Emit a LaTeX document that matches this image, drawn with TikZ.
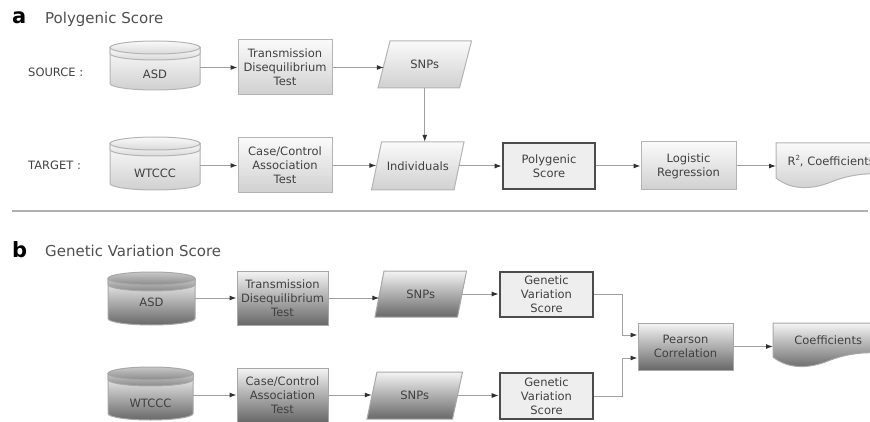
\documentclass[tikz,border=0pt]{standalone}
\usepackage{fontspec}
\setmainfont{DejaVu Sans}
\usetikzlibrary{arrows.meta}
\definecolor{txt}{HTML}{404040}
\definecolor{headC}{HTML}{505050}
\definecolor{lineC}{HTML}{A0A0A0}
\definecolor{tipC}{HTML}{303030}
\definecolor{bordA}{HTML}{B4B4B4}
\definecolor{topA}{HTML}{FAFAFA}
\definecolor{botA}{HTML}{D0D0D0}
\definecolor{bordB}{HTML}{A8A8A8}
\definecolor{topB}{HTML}{F4F4F4}
\definecolor{botB}{HTML}{686868}
\definecolor{capTopB}{HTML}{C8C8C8}
\definecolor{capBotB}{HTML}{8A8A8A}
\definecolor{scoreFill}{HTML}{EEEEEE}
\definecolor{scoreBord}{HTML}{4C4C4C}
\definecolor{sepC}{HTML}{B0B0B0}

\tikzset{
  lbl/.style={font=\fontsize{11.5}{14}\selectfont, text=txt, align=center, inner sep=0pt},
  boxA/.style={lbl, draw=bordA, line width=1pt, top color=topA, bottom color=botA},
  boxB/.style={lbl, draw=bordB, line width=1pt, top color=topB, bottom color=botB},
  scorebox/.style={lbl, draw=scoreBord, line width=2.6pt, fill=scoreFill},
  shapeA/.style={draw=bordA, line width=1pt, top color=topA, bottom color=botA},
  shapeB/.style={draw=bordB, line width=1pt, top color=topB, bottom color=botB},
  capA/.style={draw=bordA, line width=1pt, top color=topA, bottom color=botA!80},
  capB/.style={draw=bordB, line width=1pt, top color=capTopB, bottom color=capBotB},
  arr/.style={draw=lineC, line width=1pt, -{Latex[length=7pt,width=5pt,color=tipC]}},
  heading/.style={font=\fontsize{15}{18}\selectfont, text=headC, inner sep=0pt, anchor=base west},
  panel/.style={font=\bfseries\fontsize{21}{24}\selectfont, text=black, inner sep=0pt, anchor=base west},
  side/.style={font=\fontsize{11.5}{14}\selectfont, text=txt, inner sep=0pt, anchor=base west},
}

% name, style, x1, y1, x2, y2, text
\newcommand\mkbox[7]{%
  \node[#2, minimum width={#5-#3}, minimum height={#6-#4}] (#1) at ({(#3+#5)/2},{(#4+#6)/2}) {#7};}
% name, style, cx, cy, midwidth, height, slant, text
\newcommand\mkpara[8]{%
  \path[#2] ({#3-#5/2+#7/2},{#4-#6/2}) -- ({#3+#5/2+#7/2},{#4-#6/2}) -- ({#3+#5/2-#7/2},{#4+#6/2}) -- ({#3-#5/2-#7/2},{#4+#6/2}) -- cycle;
  \node[lbl, minimum width=#5, minimum height=#6] (#1) at (#3,#4) {#8};}
% name, bodystyle, capstyle, x1, y1, x2, y2, text, texty
\newcommand\mkcyl[9]{%
  \pgfmathsetmacro\cxx{(#4+#6)/2}\pgfmathsetmacro\rxx{(#6-#4)/2}%
  \path[#2] (#4,{#5+6.5}) -- (#4,{#7-6.5}) arc[start angle=180,end angle=0,x radius=\rxx,y radius=6.5] -- (#6,{#5+6.5}) -- cycle;
  \path[#3] (#4,{#5+6.5}) -- (#4,{#5+12.5}) arc[start angle=180,end angle=0,x radius=\rxx,y radius=6.5] -- (#6,{#5+6.5}) -- cycle;
  \path[#3] (\cxx,{#5+6.5}) ellipse[x radius=\rxx, y radius=6.5];
  \node[inner sep=0pt, minimum width={#6-#4}, minimum height={#7-#5}] (#1) at (\cxx,{(#5+#7)/2}) {};
  \node[lbl] (#1txt) at (\cxx,#9) {#8};}
% name, style, x0, top, h, text
\newcommand\mkdoc[6]{%
  \path[#2] (#3,#4) -- (#3,{#4+#5}) .. controls ({#3+15},{#4+#5+12}) and ({#3+35},{#4+#5+12}) .. ({#3+55},{#4+#5+4}) .. controls ({#3+75},{#4+#5-4}) and ({#3+95},{#4+#5-6}) .. ({#3+120},{#4+#5-3}) -- ({#3+120},#4) -- cycle;
  \node[lbl, anchor=north west, minimum width=110, minimum height=#5] (#1) at (#3,#4) {#6};}

\begin{document}
\begin{tikzpicture}[x=1pt,y=-1pt]
\useasboundingbox (0,0) rectangle (870,422);

% ---------- panel a ----------
\node[panel] (pa) at (12,23.5) {a};
\node[heading] (ha) at (45,23.5) {Polygenic Score};
\node[side] (src) at (28,77) {SOURCE :};
\node[side] (tgt) at (28,170) {TARGET :};

\mkcyl{asdA}{shapeA}{capA}{110}{41}{200}{90}{ASD}{74}
\mkbox{trA}{boxA}{238}{40}{332}{95}{Transmission\\Disequilibrium\\Test}
\mkpara{snpA}{shapeA}{424.75}{64.5}{81.5}{47}{12}{SNPs}

\mkcyl{wtA}{shapeA}{capA}{110}{137}{200}{190}{WTCCC}{173}
\mkbox{ccA}{boxA}{238}{138}{332}{193}{Case/Control\\Association\\Test}
\mkpara{indA}{shapeA}{417.75}{166}{82.5}{48}{10}{Individuals}
\mkbox{polyA}{scorebox}{503}{143}{595}{189}{Polygenic\\Score}
\mkbox{logA}{boxA}{641}{142}{736}{190}{Logistic\\Regression}
\mkdoc{docA}{shapeA}{776}{143}{35}{R\raisebox{5pt}{\fontsize{7}{8}\selectfont 2}, Coefficients}

\draw[arr] (trA.west -| asdA.east) -- (trA.west);
\draw[arr] (trA.east) -- (trA.east -| snpA.west);
\draw[arr] (snpA.south) -- (snpA.south |- indA.north);
\draw[arr] (ccA.west -| wtA.east) -- (ccA.west);
\draw[arr] (ccA.east) -- (ccA.east -| indA.west);
\draw[arr] (indA.east) -- (indA.east -| polyA.west);
\draw[arr] (polyA.east) -- (polyA.east -| logA.west);
\draw[arr] (logA.east) -- (logA.east -| docA.west);

\draw[sepC, line width=2pt] (12,211) -- (868,211);

% ---------- panel b ----------
\node[panel] (pb) at (12,257) {b};
\node[heading] (hb) at (45,256) {Genetic Variation Score};

\mkcyl{asdB}{shapeB}{capB}{108}{272}{195}{325}{ASD}{302}
\mkbox{trB}{boxB}{237}{271}{328}{325}{Transmission\\Disequilibrium\\Test}
\mkpara{snpB}{shapeB}{420.75}{294}{82.5}{46}{9}{SNPs}
\mkbox{gvsB}{scorebox}{500}{272}{593}{317}{Genetic\\Variation\\Score}

\mkcyl{wtB}{shapeB}{capB}{108}{367}{193}{420}{WTCCC}{403}
\mkbox{ccB}{boxB}{237}{368}{328}{422}{Case/Control\\Association\\Test}
\mkpara{snpC}{shapeB}{414.75}{395.5}{85.5}{47}{10}{SNPs}
\mkbox{gvsC}{scorebox}{500}{373}{593}{419}{Genetic\\Variation\\Score}

\mkbox{pear}{boxB}{638}{323}{733}{370}{Pearson\\Correlation}
\mkdoc{docB}{shapeB}{773}{323}{34}{Coefficients}

\draw[arr] (trB.west -| asdB.east) -- (trB.west);
\draw[arr] (trB.east) -- (trB.east -| snpB.west);
\draw[arr] (snpB.east) -- (snpB.east -| gvsB.west);
\draw[arr] (ccB.west -| wtB.east) -- (ccB.west);
\draw[arr] (ccB.east) -- (ccB.east -| snpC.west);
\draw[arr] (snpC.east) -- (snpC.east -| gvsC.west);
\draw[arr] (gvsB.east) -| ([xshift=-15pt,yshift=11.5pt]pear.west) -- ([yshift=11.5pt]pear.west);
\draw[arr] (gvsC.east) -| ([xshift=-15pt,yshift=-11.5pt]pear.west) -- ([yshift=-11.5pt]pear.west);
\draw[arr] (pear.east) -- (pear.east -| docB.west);
\end{tikzpicture}
\end{document}
